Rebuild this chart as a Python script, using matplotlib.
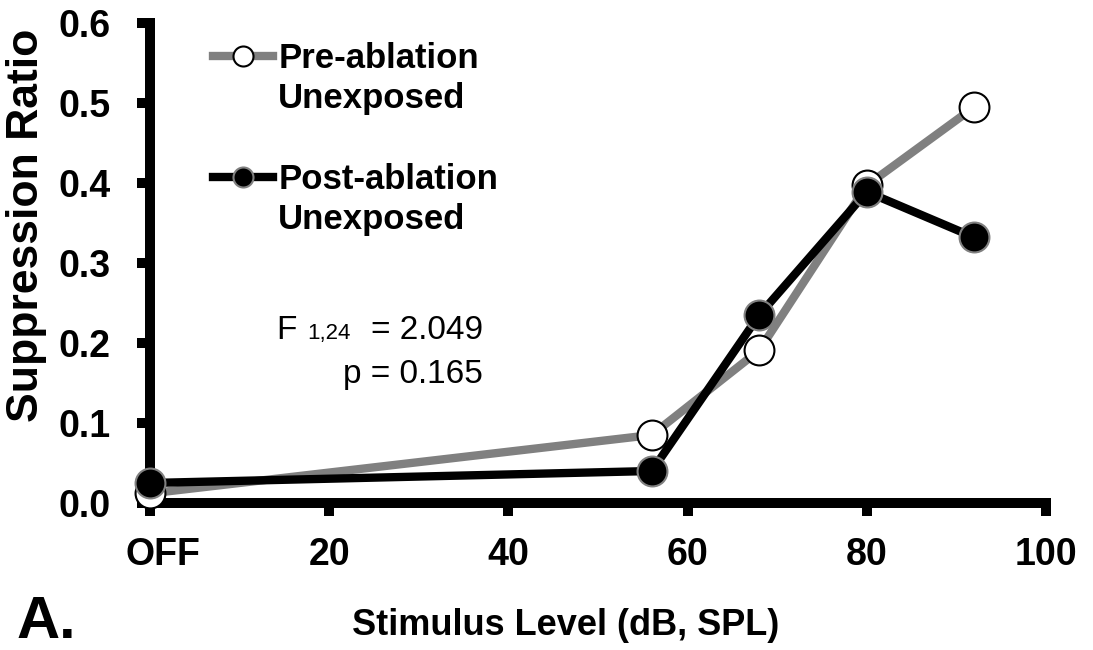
import numpy as np
import matplotlib.pyplot as plt
import matplotlib.transforms as mtransforms
from matplotlib.lines import Line2D

plt.rcParams['font.family'] = ['Liberation Sans', 'DejaVu Sans']

# stimulus levels (0 = OFF) and suppression ratios
levels = [0, 56, 68, 80, 92]
pre_ablation = [0.012, 0.085, 0.191, 0.397, 0.495]
post_ablation = [0.025, 0.040, 0.235, 0.389, 0.332]

xticks = [0, 20, 40, 60, 80, 100]
xticklabels = ['OFF', '20', '40', '60', '80', '100']
yticks = [0.0, 0.1, 0.2, 0.3, 0.4, 0.5, 0.6]

W, H = 1093, 650


def fx(x):
    return x / W


def fy(y):
    return 1 - y / H


fig = plt.figure(figsize=(W / 100, H / 100), dpi=100)
ax = fig.add_axes([fx(150), fy(503), fx(1046) - fx(150), fy(23) - fy(503)])

pre, = ax.plot(levels, pre_ablation, color='#808080', lw=6, marker='o', ms=21.5,
               mfc='white', mec='black', mew=1.5, clip_on=False, zorder=3)
post, = ax.plot(levels, post_ablation, color='black', lw=6, marker='o', ms=21.5,
                mfc='black', mec='#808080', mew=1.5, clip_on=False, zorder=4)

ax.set_xlim(0, 100)
ax.set_ylim(0, 0.6)
ax.set_xticks(xticks)
ax.set_xticklabels(xticklabels)
ax.set_yticks(yticks)
ax.set_yticklabels(['%.1f' % v for v in yticks])

for side in ['top', 'right']:
    ax.spines[side].set_visible(False)
for side in ['left', 'bottom']:
    ax.spines[side].set_linewidth(7.2)

ax.tick_params(direction='out', length=9.5, width=7.2, labelsize=27)
ax.tick_params(axis='x', pad=15)
ax.tick_params(axis='y', pad=19)
for lab in ax.get_xticklabels() + ax.get_yticklabels():
    lab.set_fontweight('bold')

# OFF label sits a little right of its tick
off = ax.get_xticklabels()[0]
off.set_transform(off.get_transform() +
                  mtransforms.ScaledTranslation(9 / 72, 0, fig.dpi_scale_trans))

fig.text(fx(27), fy(225), 'Suppression Ratio', rotation=90, fontsize=32,
         fontweight='bold', ha='center', va='center')
fig.text(fx(566), fy(635), 'Stimulus Level (dB, SPL)', fontsize=26,
         fontweight='bold', ha='center', va='baseline')
fig.text(fx(17), fy(638), 'A.', fontsize=43, fontweight='bold',
         ha='left', va='baseline')

# legend: each label split over two rows, blank row between entries
blank = Line2D([], [], color='none')
ax.legend([pre, blank, blank, post, blank],
          ['Pre-ablation', 'Unexposed', ' ', 'Post-ablation', 'Unexposed'],
          loc='upper left', bbox_to_anchor=(fx(213), fy(42)),
          bbox_transform=fig.transFigure, frameon=False,
          prop={'weight': 'bold', 'size': 25}, handlelength=1.73,
          handletextpad=0.15, labelspacing=0.21, borderpad=0,
          borderaxespad=0, markerscale=0.67)

# statistics
fig.text(fx(276), fy(339), 'F', fontsize=24, ha='left', va='baseline')
fig.text(fx(307), fy(339), '1,24', fontsize=16, ha='left', va='baseline')
fig.text(fx(483), fy(339), '= 2.049', fontsize=24, ha='right', va='baseline')
fig.text(fx(483), fy(383), 'p = 0.165', fontsize=24, ha='right', va='baseline')

fig.savefig('out.png', dpi=100)
